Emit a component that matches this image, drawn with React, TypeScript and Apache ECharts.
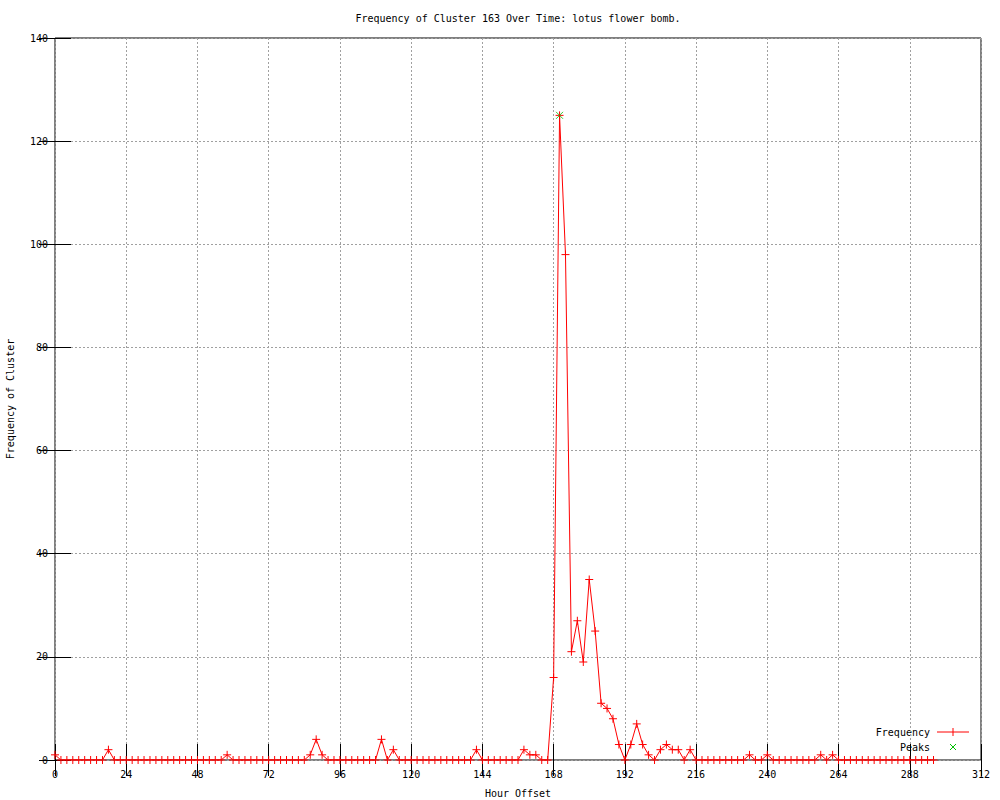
import React, { useEffect, useRef } from "react";
import * as echarts from "echarts";

const titleText = "Frequency of Cluster 163 Over Time: lotus flower bomb.";
const xAxisName = "Hour Offset";
const yAxisName = "Frequency of Cluster";

const hours = [
  0, 2, 4, 6, 8, 10, 12, 14, 16, 18, 20, 22, 24, 26, 28, 30, 32, 34, 36, 38,
  40, 42, 44, 46, 48, 50, 52, 54, 56, 58, 60, 62, 64, 66, 68, 70, 72, 74, 76, 78,
  80, 82, 84, 86, 88, 90, 92, 94, 96, 98, 100, 102, 104, 106, 108, 110, 112, 114, 116, 118,
  120, 122, 124, 126, 128, 130, 132, 134, 136, 138, 140, 142, 144, 146, 148, 150, 152, 154, 156, 158,
  160, 162, 164, 166, 168, 170, 172, 174, 176, 178, 180, 182, 184, 186, 188, 190, 192, 194, 196, 198,
  200, 202, 204, 206, 208, 210, 212, 214, 216, 218, 220, 222, 224, 226, 228, 230, 232, 234, 236, 238,
  240, 242, 244, 246, 248, 250, 252, 254, 256, 258, 260, 262, 264, 266, 268, 270, 272, 274, 276, 278,
  280, 282, 284, 286, 288, 290, 292, 294, 296,
];

const frequency = [
  1, 0, 0, 0, 0, 0, 0, 0, 0, 2, 0, 0, 0, 0, 0, 0, 0, 0, 0, 0,
  0, 0, 0, 0, 0, 0, 0, 0, 0, 1, 0, 0, 0, 0, 0, 0, 0, 0, 0, 0,
  0, 0, 0, 1, 4, 1, 0, 0, 0, 0, 0, 0, 0, 0, 0, 4, 0, 2, 0, 0,
  0, 0, 0, 0, 0, 0, 0, 0, 0, 0, 0, 2, 0, 0, 0, 0, 0, 0, 0, 2,
  1, 1, 0, 0, 16, 125, 98, 21, 27, 19, 35, 25, 11, 10, 8, 3, 0, 3, 7, 3,
  1, 0, 2, 3, 2, 2, 0, 2, 0, 0, 0, 0, 0, 0, 0, 0, 0, 1, 0, 0,
  1, 0, 0, 0, 0, 0, 0, 0, 0, 1, 0, 1, 0, 0, 0, 0, 0, 0, 0, 0,
  0, 0, 0, 0, 0, 0, 0, 0, 0,
];

const peakHours = [170];
const peakValues = [125];

const xTicks = { min: 0, max: 312, interval: 24 };
const yTicks = { min: 0, max: 140, interval: 20 };

const FONT = "DejaVu Sans Mono";
const PLUS = "path://M4,0L4,8M0,4L8,4";
const CROSS = "path://M0,0L8,8M8,0L0,8";

export default function App() {
  const ref = useRef<HTMLDivElement>(null);

  useEffect(() => {
    if (!ref.current) return;
    const chart = echarts.init(ref.current, null, { renderer: "svg" });

    const freqData = hours.map((h, i) => [h, frequency[i]]);
    const peakData = peakHours.map((h, i) => [h, peakValues[i]]);

    const tickStyle = { show: true, inside: true, length: 16, lineStyle: { color: "#000", width: 1 } };
    const labelStyle = { color: "#000", fontFamily: FONT, fontSize: 10 };

    chart.setOption({
      animation: false,
      backgroundColor: "#fff",
      grid: {
        left: 55,
        top: 38,
        right: 19,
        bottom: 40,
        outerBoundsMode: "none",
        containLabel: false,
        show: true,
        borderColor: "#000",
        borderWidth: 1,
        backgroundColor: "transparent",
      },
      xAxis: [
        {
          type: "value",
          position: "bottom",
          ...xTicks,
          name: xAxisName,
          nameLocation: "middle",
          nameGap: 28,
          nameTextStyle: { ...labelStyle },
          axisLine: { show: false },
          axisTick: tickStyle,
          axisLabel: { ...labelStyle, margin: 9 },
          splitLine: { show: true, lineStyle: { color: "#a0a0a0", type: [2, 2], width: 1 } },
        },
        {
          type: "value",
          position: "top",
          ...xTicks,
          axisLine: { show: false },
          axisTick: tickStyle,
          axisLabel: { show: false },
          splitLine: { show: false },
        },
      ],
      yAxis: [
        {
          type: "value",
          position: "left",
          ...yTicks,
          name: yAxisName,
          nameLocation: "middle",
          nameGap: 40,
          nameRotate: 90,
          nameTextStyle: { ...labelStyle },
          axisLine: { show: false },
          axisTick: tickStyle,
          axisLabel: { ...labelStyle, margin: 7 },
          splitLine: { show: true, lineStyle: { color: "#a0a0a0", type: [2, 2], width: 1 } },
        },
        {
          type: "value",
          position: "right",
          ...yTicks,
          axisLine: { show: false },
          axisTick: tickStyle,
          axisLabel: { show: false },
          splitLine: { show: false },
        },
      ],
      series: [
        {
          name: "Frequency",
          type: "line",
          xAxisIndex: 0,
          yAxisIndex: 0,
          data: freqData,
          showSymbol: true,
          symbol: PLUS,
          symbolSize: 8,
          lineStyle: { color: "#ff0000", width: 1 },
          itemStyle: { color: "none", borderColor: "#ff0000", borderWidth: 1 },
          z: 3,
        },
        {
          name: "Peaks",
          type: "scatter",
          xAxisIndex: 0,
          yAxisIndex: 0,
          data: peakData,
          symbol: CROSS,
          symbolSize: 7,
          itemStyle: { color: "none", borderColor: "#00c000", borderWidth: 1 },
          z: 4,
        },
      ],
      graphic: [
        {
          type: "text",
          x: 518,
          y: 18,
          style: {
            text: titleText,
            textAlign: "center",
            textVerticalAlign: "middle",
            fill: "#000",
            font: `10px "${FONT}"`,
          },
        },
        {
          type: "text",
          x: 930,
          y: 732,
          style: {
            text: "Frequency",
            textAlign: "right",
            textVerticalAlign: "middle",
            fill: "#000",
            font: `10px "${FONT}"`,
          },
        },
        {
          type: "line",
          shape: { x1: 937, y1: 732, x2: 969, y2: 732 },
          style: { stroke: "#ff0000", lineWidth: 1 },
        },
        {
          type: "line",
          shape: { x1: 953, y1: 728, x2: 953, y2: 736 },
          style: { stroke: "#ff0000", lineWidth: 1 },
        },
        {
          type: "text",
          x: 930,
          y: 747,
          style: {
            text: "Peaks",
            textAlign: "right",
            textVerticalAlign: "middle",
            fill: "#000",
            font: `10px "${FONT}"`,
          },
        },
        {
          type: "line",
          shape: { x1: 950, y1: 744, x2: 956, y2: 750 },
          style: { stroke: "#00c000", lineWidth: 1 },
        },
        {
          type: "line",
          shape: { x1: 956, y1: 744, x2: 950, y2: 750 },
          style: { stroke: "#00c000", lineWidth: 1 },
        },
      ],
    });

    return () => chart.dispose();
  }, []);

  return (
    <div
      ref={ref}
      style={{ position: "fixed", left: 0, top: 0, width: 1000, height: 800, background: "#fff" }}
    />
  );
}
